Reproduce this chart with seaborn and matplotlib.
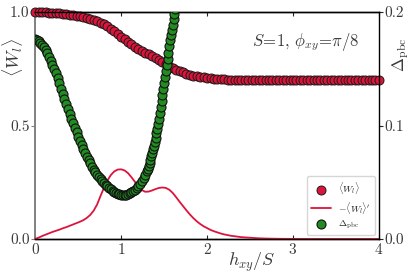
import numpy as np
import pandas as pd
import matplotlib
matplotlib.use('Agg')
import matplotlib.pyplot as plt
import seaborn as sns

#%% Data
# field grid for <W_l> and its derivative (step 0.04)
h_w = np.round(np.arange(101) * 0.04, 2)

w_l = [1.000, 1.000, 0.9995, 0.9989, 0.9981, 0.9970, 0.9957, 0.9942, 0.9925, 0.9906,
       0.9885, 0.9861, 0.9835, 0.9807, 0.9776, 0.9742, 0.9704, 0.9659, 0.9606, 0.9540,
       0.9460, 0.9366, 0.9262, 0.9150, 0.9033, 0.8915, 0.8798, 0.8683, 0.8575, 0.8474,
       0.8380, 0.8294, 0.8212, 0.8132, 0.8050, 0.7966, 0.7880, 0.7793, 0.7706, 0.7621,
       0.7539, 0.7465, 0.7398, 0.7338, 0.7286, 0.7241, 0.7202, 0.7169, 0.7141, 0.7118,
       0.7098, 0.7081, 0.7066, 0.7054, 0.7044, 0.7035, 0.7028, 0.7022, 0.7017, 0.7013,
       0.7010, 0.7007, 0.7004, 0.7002, 0.7000, 0.6999, 0.6998, 0.6998, 0.6998, 0.6998,
       0.6998, 0.6998, 0.6998, 0.6998, 0.6998, 0.6998, 0.6998, 0.6998, 0.6998, 0.6998,
       0.6998, 0.6998, 0.6998, 0.6998, 0.6998, 0.6998, 0.6998, 0.6998, 0.6998, 0.6998,
       0.6998, 0.6998, 0.6998, 0.6998, 0.6998, 0.6998, 0.6998, 0.6998, 0.6998, 0.6998,
       0.6998]

dw_l = [0.000, 0.006, 0.013, 0.019, 0.025, 0.031, 0.036, 0.041, 0.047, 0.052,
        0.058, 0.064, 0.070, 0.076, 0.083, 0.093, 0.106, 0.125, 0.152, 0.190,
        0.226, 0.258, 0.282, 0.298, 0.306, 0.307, 0.302, 0.290, 0.272, 0.252,
        0.232, 0.216, 0.208, 0.209, 0.214, 0.220, 0.225, 0.227, 0.225, 0.217,
        0.203, 0.184, 0.164, 0.145, 0.126, 0.108, 0.092, 0.078, 0.066, 0.056,
        0.048, 0.040, 0.034, 0.029, 0.024, 0.020, 0.017, 0.014, 0.012, 0.010,
        0.008, 0.007, 0.006, 0.005, 0.004, 0.003, 0.0025, 0.002, 0.0016, 0.0013,
        0.001, 0.0008, 0.0006, 0.0005, 0.0004, 0.0003, 0.0002, 0.0002, 0.0001, 0.0001,
        0.0, 0.0, 0.0, 0.0, 0.0, 0.0, 0.0, 0.0, 0.0, 0.0,
        0.0, 0.0, 0.0, 0.0, 0.0, 0.0, 0.0, 0.0, 0.0, 0.0,
        0.0]

# gap grid (finer on the steep branch)
h_gap = np.round(np.r_[np.arange(66) * 0.02, 1.30 + np.arange(1, 36) * 0.01], 2)

gap_pbc = [0.1760, 0.1756, 0.1745, 0.1730, 0.1712, 0.1690, 0.1665, 0.1637, 0.1606, 0.1573,
           0.1537, 0.1499, 0.1459, 0.1418, 0.1372, 0.1326, 0.1280, 0.1234, 0.1189, 0.1145,
           0.1102, 0.1060, 0.1019, 0.0979, 0.0940, 0.0902, 0.0865, 0.0829, 0.0794, 0.0760,
           0.0727, 0.0696, 0.0666, 0.0638, 0.0612, 0.0588, 0.0566, 0.0545, 0.0526, 0.0509,
           0.0493, 0.0479, 0.0466, 0.0450, 0.0438, 0.0427, 0.0417, 0.0408, 0.0400, 0.0394,
           0.0390, 0.0388, 0.0388, 0.0391, 0.0396, 0.0403, 0.0412, 0.0423, 0.0436, 0.0451,
           0.0468, 0.0488, 0.0511, 0.0537, 0.0565, 0.0595,
           0.0619, 0.0644, 0.0670, 0.0699, 0.0728, 0.0758, 0.0789, 0.0820, 0.0856, 0.0893,
           0.0931, 0.0970, 0.1015, 0.1062, 0.1110, 0.1163, 0.1216, 0.1270, 0.1323, 0.1376,
           0.1430, 0.1483, 0.1537, 0.1590, 0.1643, 0.1697, 0.1750, 0.1797, 0.1843, 0.1890,
           0.1937, 0.1983, 0.2030, 0.2077, 0.2123]

df_w = pd.DataFrame({'h': h_w, 'W': w_l, 'dW': dw_l})
df_gap = pd.DataFrame({'h': h_gap, 'gap': gap_pbc})

#%% Style
sns.set_style('ticks')
plt.rcParams['font.family'] = 'serif'
plt.rcParams['font.serif'] = ['cmr10', 'DejaVu Serif']
plt.rcParams['mathtext.fontset'] = 'cm'
plt.rcParams['axes.formatter.use_mathtext'] = True
plt.rcParams['axes.unicode_minus'] = False

c_red = '#DC143C'
c_green = '#228B22'
c_txt = '#3a3a3a'

#%% Plot
fig = plt.figure(figsize=(4.15, 2.75), dpi=100)
ax = fig.add_axes([0.085, 0.131, 0.828, 0.825])
ax2 = ax.twinx()

sns.scatterplot(x='h', y='W', data=df_w, ax=ax, color=c_red, s=42,
                edgecolor='#1a1a1a', linewidth=0.7, clip_on=False, zorder=3,
                label=r'$\langle W_l\rangle$', legend=False)
sns.lineplot(x='h', y='dW', data=df_w, ax=ax, color=c_red, linewidth=1.3,
             clip_on=False, zorder=4, label=r"$-\langle W_l\rangle'$", legend=False)
sns.scatterplot(x='h', y='gap', data=df_gap, ax=ax2, color=c_green, s=42,
                edgecolor='#111111', linewidth=0.8, zorder=3,
                label=r'$\Delta_{\rm pbc}$', legend=False)

ax.set_xlim(0, 4)
ax.set_ylim(0, 1)
ax2.set_ylim(0, 0.2)
ax.set_xticks([0, 1, 2, 3, 4])
ax.set_yticks([0, 0.5, 1.0])
ax.set_yticklabels(['0.0', '0.5', '1.0'])
ax2.set_yticks([0, 0.1, 0.2])
ax2.set_yticklabels(['0.0', '0.1', '0.2'])

ax.set_xlabel(r'$h_{xy}/S$', fontsize=13, color=c_txt)
ax.set_ylabel(r'$\langle W_l\rangle$', fontsize=13, color=c_txt)
ax2.set_ylabel(r'$\Delta_{\rm pbc}$', fontsize=12, color=c_txt)
ax.xaxis.set_label_coords(0.63, -0.05)
ax.yaxis.set_label_coords(-0.03, 0.80)
ax2.yaxis.set_label_coords(1.033, 0.81)

ax.tick_params(axis='x', direction='in', top=True, length=3, labelsize=11,
               labelcolor=c_txt, pad=2)
ax.tick_params(axis='y', direction='out', length=3, labelsize=11,
               labelcolor=c_txt, color='gray', pad=1)
ax2.tick_params(axis='y', direction='out', length=3, labelsize=11,
                labelcolor=c_txt, pad=1)

for a in [ax, ax2]:
    for s in a.spines.values():
        s.set_visible(True)
        s.set_color('black')
        s.set_linewidth(1.0)
ax.spines['left'].set_color('gray')
ax.spines['left'].set_linewidth(1.4)
ax2.spines['left'].set_visible(False)
ax.spines['right'].set_visible(False)

ax.text(0.63, 0.87, r'$S\!=\!1$, $\phi_{xy}\!=\!\pi/8$', transform=ax.transAxes,
        fontsize=12, color=c_txt, va='center', ha='left')

h1, l1 = ax.get_legend_handles_labels()
h2, l2 = ax2.get_legend_handles_labels()
ax2.legend(h1 + h2, l1 + l2, loc='lower right', fontsize=7, frameon=True,
           borderaxespad=0.4, handlelength=2.0, labelspacing=0.35,
           borderpad=0.4, edgecolor='#cccccc')

fig.savefig('out.png', dpi=100)
